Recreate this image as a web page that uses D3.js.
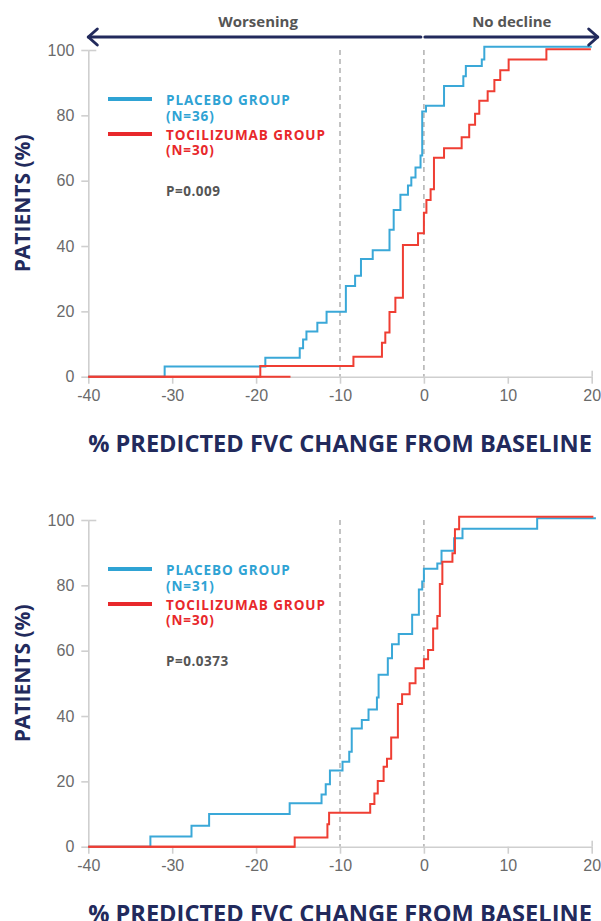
<!DOCTYPE html>
<html>
<head>
<meta charset="utf-8">
<script src="https://cdn.jsdelivr.net/npm/d3@7/dist/d3.min.js"></script>
<style>
  html, body { margin: 0; padding: 0; background: #fff; }
  svg { display: block; font-family: "Open Sans", "Noto Sans", sans-serif; }
</style>
</head>
<body>
<svg id="chart" width="601" height="921"></svg>
<script>
// ---------- data ----------
const xTicks = [-40, -30, -20, -10, 0, 10, 20];
const yTicks = [0, 20, 40, 60, 80, 100];
const refLines = [-10, 0];
const directionLabels = ["Worsening", "No decline"];
const xTitle = "% PREDICTED FVC CHANGE FROM BASELINE";
const yTitle = "PATIENTS (%)";

// Panel 1
const p1PlaceboX = [-40, -30.9, -18.9, -14.8, -14.4, -14.0, -12.7, -11.6, -9.3, -8.2, -7.5, -6.1, -4.1, -3.6, -2.8, -1.9, -1.5, -1.0, -0.4, -0.2, 0.25, 2.4, 4.7, 5.0, 6.9, 7.2, 20];
const p1PlaceboY = [0, 3.1, 5.8, 8.7, 11.4, 13.8, 16.5, 19.9, 27.8, 30.9, 36.0, 38.7, 45.0, 51.0, 55.7, 58.5, 61.0, 64.0, 67.7, 81.2, 82.9, 89.0, 92.0, 95.1, 97.1, 101, 101];
const p1TociX = [-40, -19.5, -8.4, -5.0, -4.6, -4.1, -3.4, -2.5, -0.7, 0.0, 0.3, 0.8, 1.2, 2.4, 4.5, 5.4, 6.1, 6.6, 7.6, 8.4, 9.1, 10.1, 14.6, 19.9];
const p1TociY = [0, 3.3, 6.1, 10.4, 13.5, 19.8, 24.2, 40.3, 43.9, 50.2, 54.1, 57.4, 67.0, 69.9, 73.3, 77.1, 80.5, 84.5, 87.4, 90.8, 93.8, 97.1, 100.2, 100.2];
const p1TociBaselineX = [-40, -15.9];
const p1Legend = ["PLACEBO GROUP", "(N=36)", "TOCILIZUMAB GROUP", "(N=30)"];
const p1P = "P=0.009";

// Panel 2
const p2PlaceboX = [-40, -32.6, -27.7, -25.6, -16.0, -12.2, -11.7, -11.2, -9.7, -8.9, -8.6, -7.4, -6.6, -5.6, -5.4, -4.3, -3.8, -3.0, -1.4, -0.6, -0.2, 0.0, 1.6, 2.1, 3.6, 4.6, 13.5, 20.5];
const p2PlaceboY = [0, 3.1, 6.4, 10.0, 13.3, 16.0, 19.1, 23.3, 26.0, 29.1, 36.2, 38.8, 42.0, 45.7, 52.6, 57.7, 62.0, 65.1, 71.0, 78.7, 81.2, 85.1, 86.7, 90.6, 94.4, 97.3, 100.5, 100.5];
const p2TociX = [-40, -15.4, -11.5, -11.3, -6.4, -5.9, -5.5, -4.8, -4.4, -3.9, -3.1, -2.6, -1.7, -1.0, 0.0, 0.5, 1.1, 1.6, 1.9, 2.2, 3.4, 3.7, 4.2, 20.2];
const p2TociY = [0, 2.8, 6.9, 10.4, 13.1, 16.3, 20.1, 24.5, 26.9, 33.4, 43.7, 46.7, 50.0, 54.6, 57.4, 60.2, 66.8, 70.6, 80.4, 87.2, 89.8, 97.2, 101.0, 101.0];
const p2TociBaselineX = [-40, -15.4];
const p2Legend = ["PLACEBO GROUP", "(N=31)", "TOCILIZUMAB GROUP", "(N=30)"];
const p2P = "P=0.0373";

// ---------- style ----------
const BLUE = "#3aa8d8";
const BLUE_TXT = "#2fa3d4";
const RED = "#ef3e33";
const RED_TXT = "#e8282b";
const NAVY = "#222a5c";
const GREY_TXT = "#555";
const AXIS = "#cfcfcf";

const svg = d3.select("#chart");

const x = d3.scaleLinear().domain([-40, 20]).range([88.3, 591.7]);

function drawPanel(yTop, yBottom, d, withArrow) {
  const y = d3.scaleLinear().domain([0, 100]).range([yBottom, yTop]);
  const g = svg.append("g");

  // dashed reference lines
  g.selectAll("line.ref").data(refLines).join("line")
    .attr("x1", v => x(v)).attr("x2", v => x(v))
    .attr("y1", y(100)).attr("y2", y(0))
    .attr("stroke", "#b0b0b0").attr("stroke-width", 1.5)
    .attr("stroke-dasharray", "5,4");

  // x axis
  const xa = g.append("g").attr("transform", `translate(0,${y(0)})`)
    .call(d3.axisBottom(x).tickValues(xTicks).tickSize(7).tickSizeOuter(0).tickPadding(6).tickFormat(d3.format("d")));
  xa.select(".domain").attr("stroke", AXIS).attr("stroke-width", 1.6);
  xa.selectAll(".tick line").attr("stroke", AXIS).attr("stroke-width", 1.6);
  xa.selectAll(".tick text").attr("fill", "#6a6a6a").attr("font-size", 16).attr("font-weight", 300)
    .text(v => v < 0 ? "-" + Math.abs(v) : v);
  xa.selectAll(".tick").filter(v => v === 20).append("line")
    .attr("y1", 0).attr("y2", -6).attr("stroke", AXIS).attr("stroke-width", 1.6);

  // y axis
  const ya = g.append("g").attr("transform", `translate(${x(-40)},0)`)
    .call(d3.axisLeft(y).tickValues(yTicks).tickSize(7).tickSizeOuter(0).tickPadding(7));
  ya.select(".domain").attr("stroke", AXIS).attr("stroke-width", 1.6);
  ya.selectAll(".tick line").attr("stroke", AXIS).attr("stroke-width", 1.6);
  ya.selectAll(".tick text").attr("fill", "#6a6a6a").attr("font-size", 16).attr("font-weight", 300);
  ya.selectAll(".tick").filter(v => v === 100).append("line")
    .attr("x1", 0).attr("x2", 8).attr("stroke", AXIS).attr("stroke-width", 1.6);

  // curves
  const line = d3.line().x(p => x(p[0])).y(p => y(p[1])).curve(d3.curveStepAfter);
  const pl = d.placeboX.map((v, i) => [v, d.placeboY[i]]);
  const tc = d.tociX.map((v, i) => [v, d.tociY[i]]);
  const base = d.tociBaseX.map(v => [v, 0]);
  g.append("path").attr("d", line(pl)).attr("fill", "none").attr("stroke", BLUE).attr("stroke-width", 2);
  g.append("path").attr("d", line(base)).attr("fill", "none").attr("stroke", RED).attr("stroke-width", 2);
  g.append("path").attr("d", line(tc)).attr("fill", "none").attr("stroke", RED).attr("stroke-width", 2);

  // legend
  const lg = g.append("g").attr("font-weight", 700).attr("font-size", 13.5).attr("letter-spacing", 0.9);
  const ly0 = y(100);
  lg.append("line").attr("x1", 108).attr("x2", 152).attr("y1", ly0 + 49).attr("y2", ly0 + 49)
    .attr("stroke", BLUE_TXT).attr("stroke-width", 4);
  lg.append("line").attr("x1", 108).attr("x2", 152).attr("y1", ly0 + 84).attr("y2", ly0 + 84)
    .attr("stroke", RED_TXT).attr("stroke-width", 4);
  const legY = [55, 71, 89.5, 105];
  const legC = [BLUE_TXT, BLUE_TXT, RED_TXT, RED_TXT];
  lg.selectAll("text.leg").data(d.legend).join("text")
    .attr("x", 166).attr("y", (t, i) => ly0 + legY[i]).attr("fill", (t, i) => legC[i]).text(t => t);
  lg.append("text").attr("x", 166).attr("y", ly0 + 145.7).attr("fill", GREY_TXT)
    .attr("letter-spacing", 0.5).text(d.pText);

  // y title
  g.append("text").attr("transform", `translate(30,${y(50) - 10}) rotate(-90)`)
    .attr("text-anchor", "middle").attr("fill", NAVY).attr("font-weight", 700).attr("font-size", 21)
    .text(yTitle);

  // x title
  g.append("text").attr("x", (x(-40) + x(20)) / 2).attr("y", y(0) + 75)
    .attr("text-anchor", "middle").attr("fill", NAVY).attr("font-weight", 700).attr("font-size", 23.6)
    .text(xTitle);

  if (withArrow) {
    const ay = 37;
    const ag = g.append("g").attr("stroke", NAVY).attr("stroke-width", 3).attr("fill", "none")
      .attr("stroke-linecap", "round").attr("stroke-linejoin", "round");
    ag.append("line").attr("x1", x(-40)).attr("x2", x(0) - 3).attr("y1", ay).attr("y2", ay);
    ag.append("line").attr("x1", x(0) + 1).attr("x2", x(20) + 6).attr("y1", ay).attr("y2", ay);
    ag.append("path").attr("d", `M${x(-40) + 9},${ay - 8}L${x(-40)},${ay}L${x(-40) + 9},${ay + 8}`);
    ag.append("path").attr("d", `M${x(20) - 3},${ay - 8}L${x(20) + 6},${ay}L${x(20) - 3},${ay + 8}`);
    g.selectAll("text.dir").data(directionLabels).join("text")
      .attr("x", (t, i) => i === 0 ? (x(-40) + x(0)) / 2 + 2 : (x(0) + x(20)) / 2 + 4)
      .attr("y", 27).attr("text-anchor", "middle").attr("fill", GREY_TXT)
      .attr("font-weight", 700).attr("font-size", 15).text(t => t);
  }
}

drawPanel(50, 376.7, {
  placeboX: p1PlaceboX, placeboY: p1PlaceboY, tociX: p1TociX, tociY: p1TociY,
  tociBaseX: p1TociBaselineX, legend: p1Legend, pText: p1P
}, true);

drawPanel(520, 846.7, {
  placeboX: p2PlaceboX, placeboY: p2PlaceboY, tociX: p2TociX, tociY: p2TociY,
  tociBaseX: p2TociBaselineX, legend: p2Legend, pText: p2P
}, false);
</script>
</body>
</html>
